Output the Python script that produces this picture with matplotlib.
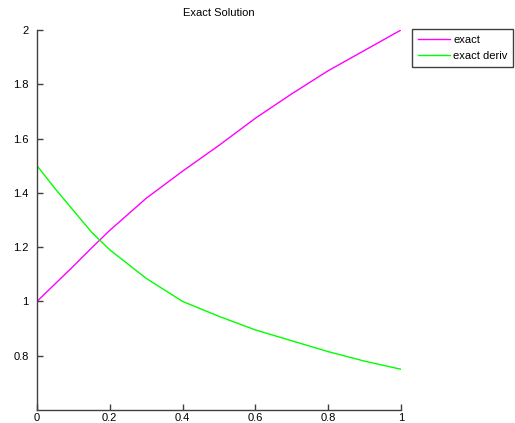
import matplotlib
matplotlib.use("Agg")
import matplotlib.pyplot as plt

# values
x_vals = [0.0, 0.05, 0.1, 0.15, 0.2, 0.3, 0.4, 0.5, 0.6, 0.7, 0.8, 0.9, 1.0]
exact = [1.0, 1.065, 1.13, 1.197, 1.262, 1.38, 1.48, 1.575, 1.675, 1.765,
         1.85, 1.925, 2.0]
exact_deriv = [1.5, 1.415, 1.335, 1.255, 1.19, 1.085, 1.0, 0.945, 0.895,
               0.855, 0.815, 0.78, 0.75]
x_ticks = [0, 0.2, 0.4, 0.6, 0.8, 1]
x_tick_labels = ["0", "0.2", "0.4", "0.6", "0.8", "1"]
y_ticks = [0.8, 1, 1.2, 1.4, 1.6, 1.8, 2]
y_tick_labels = ["0.8", "1", "1.2", "1.4", "1.6", "1.8", "2"]

plt.rcParams["font.family"] = ["Liberation Sans", "DejaVu Sans"]

fig = plt.figure(figsize=(5.15, 4.23), dpi=100)
ax = fig.add_axes([37 / 515, 1 - 410 / 423, 364 / 515, 380 / 423])

ax.plot(x_vals, exact, color="#ff00ff", lw=1.0, label="exact")
ax.plot(x_vals, exact_deriv, color="#00ff00", lw=1.0, label="exact deriv")

ax.set_xlim(0, 1)
ax.set_ylim(0.6, 2)
ax.set_xticks(x_ticks)
ax.set_xticklabels(x_tick_labels)
ax.set_yticks(y_ticks)
ax.set_yticklabels(y_tick_labels)

for side in ("top", "right"):
    ax.spines[side].set_visible(False)
for side in ("left", "bottom"):
    ax.spines[side].set_color("#404040")
    ax.spines[side].set_linewidth(1.0)
ax.tick_params(direction="in", length=4, width=1, colors="#404040",
               labelcolor="black", labelsize=8)
ax.tick_params(axis="x", pad=2.5)
ax.tick_params(axis="y", pad=6)

ax.set_title("Exact Solution", fontsize=8, pad=10)

leg = ax.legend(loc="upper left", bbox_to_anchor=(412 / 515, 1 - 29 / 423),
                bbox_transform=fig.transFigure, fontsize=8, fancybox=False,
                framealpha=1, edgecolor="#404040", handlelength=2.9,
                handletextpad=0.3, borderpad=0.5, labelspacing=0.6,
                borderaxespad=0)
leg.get_frame().set_linewidth(1.0)

fig.savefig("out.png", dpi=100)
